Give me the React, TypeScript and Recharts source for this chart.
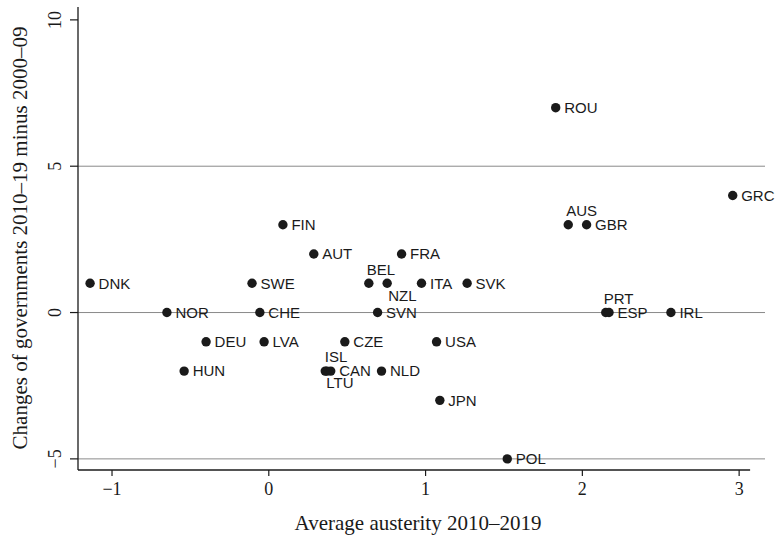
import { ScatterChart, Scatter, XAxis, YAxis, ReferenceLine } from 'recharts';

// country codes and their values
const countries = [
  'DNK', 'NOR', 'HUN', 'DEU', 'SWE', 'CHE', 'LVA', 'FIN', 'AUT', 'BEL',
  'NZL', 'SVN', 'FRA', 'ITA', 'SVK', 'CZE', 'ISL', 'LTU', 'CAN', 'NLD',
  'USA', 'JPN', 'POL', 'ROU', 'AUS', 'GBR', 'GRC', 'PRT', 'ESP', 'IRL',
];
const austerity = [
  -1.14, -0.65, -0.54, -0.4, -0.107, -0.057, -0.03, 0.09, 0.287, 0.638,
  0.755, 0.694, 0.847, 0.974, 1.265, 0.485, 0.37, 0.36, 0.395, 0.719,
  1.07, 1.091, 1.521, 1.83, 1.91, 2.027, 2.959, 2.149, 2.17, 2.565,
];
const govChanges = [
  1, 0, -2, -1, 1, 0, -1, 3, 2, 1,
  1, 0, 2, 1, 1, -1, -2, -2, -2, -2,
  -1, -3, -5, 7, 3, 3, 4, 0, 0, 0,
];
const xTicks = [-1, 0, 1, 2, 3];
const yTicks = [-5, 0, 5, 10];
const gridValues = [-5, 0, 5];

const points = countries.map((name, i) => ({ name, x: austerity[i], y: govChanges[i] }));

// where each marker label sits (default: to the right)
const labelPos: Record<string, 'top' | 'bottom'> = {
  BEL: 'top', ISL: 'top', AUS: 'top', PRT: 'top', NZL: 'bottom', LTU: 'bottom',
};

const INK = '#1a1a1a';
const SERIF = '"Liberation Serif", "DejaVu Serif", serif';
const SANS = '"Liberation Sans", Arial, sans-serif';

const renderPoint = (props: any) => {
  const { cx, cy, payload } = props;
  const pos = labelPos[payload.name];
  let tx = cx + 8.5;
  let ty = cy;
  if (pos === 'top') {
    tx = cx - 2;
    ty = cy - 14;
  } else if (pos === 'bottom') {
    tx = cx + 1;
    ty = cy + 12;
  }
  return (
    <g>
      <circle cx={cx} cy={cy} r={4.7} fill={INK} />
      <text x={tx} y={ty} dy="0.36em" fontFamily={SANS} fontSize={15} fill={INK}>
        {payload.name}
      </text>
    </g>
  );
};

const fmt = (v: number) => (v < 0 ? `\u2212${Math.abs(v)}` : `${v}`);

const XTick = ({ x, y, payload }: any) => (
  <text x={x} y={y} dy={17} textAnchor="middle" fontFamily={SERIF} fontSize={18} fill={INK}>
    {fmt(payload.value)}
  </text>
);

const YTick = ({ y, payload }: any) => (
  <text
    x={61.5}
    y={y}
    textAnchor="middle"
    transform={`rotate(-90, 61.5, ${y})`}
    fontFamily={SERIF}
    fontSize={18}
    fill={INK}
  >
    {fmt(payload.value)}
  </text>
);

export default function App() {
  return (
    <div style={{ position: 'absolute', left: 0, top: 0, width: 775, height: 543, background: '#fff' }}>
      <ScatterChart width={775} height={543} margin={{ top: 7, right: 10, bottom: 0, left: 0 }}>
        <XAxis
          type="number"
          dataKey="x"
          domain={[-1.217, 3.165]}
          ticks={xTicks}
          height={73}
          axisLine={false}
          tickSize={6}
          tickLine={{ stroke: INK, strokeWidth: 1.2 }}
          tick={<XTick />}
        />
        <YAxis
          type="number"
          dataKey="y"
          domain={[-5.38, 10.44]}
          ticks={yTicks}
          width={78}
          axisLine={{ stroke: INK, strokeWidth: 1.3 }}
          tickSize={8}
          tickLine={{ stroke: INK, strokeWidth: 1.2 }}
          tick={<YTick />}
        />
        {gridValues.map((v) => (
          <ReferenceLine key={v} y={v} stroke="#8a8a8a" strokeWidth={1} />
        ))}
        <ReferenceLine
          segment={[{ x: -1.217, y: -5.38 }, { x: 3.07, y: -5.38 }]}
          stroke={INK}
          strokeWidth={1.3}
          ifOverflow="visible"
        />
        <Scatter data={points} shape={renderPoint} isAnimationActive={false} />
      </ScatterChart>
      <svg
        width={775}
        height={543}
        style={{ position: 'absolute', left: 0, top: 0, pointerEvents: 'none' }}
      >
        <text x={418} y={530} textAnchor="middle" fontFamily={SERIF} fontSize={21} fill={INK}>
          Average austerity 2010–2019
        </text>
        <text
          x={27}
          y={238}
          textAnchor="middle"
          transform="rotate(-90, 27, 238)"
          fontFamily={SERIF}
          fontSize={21}
          fill={INK}
        >
          Changes of governments 2010–19 minus 2000–09
        </text>
      </svg>
    </div>
  );
}
